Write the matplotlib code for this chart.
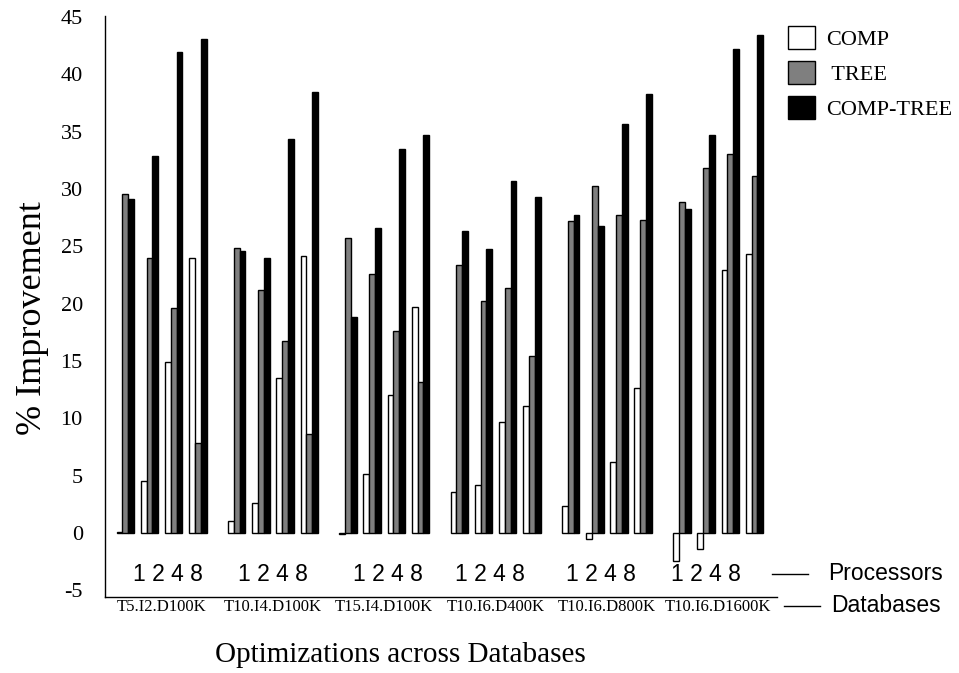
import numpy as np
import matplotlib
matplotlib.use('Agg')
import matplotlib.pyplot as plt
from matplotlib.lines import Line2D
import matplotlib.transforms as mtransforms

databases = ['T5.I2.D100K', 'T10.I4.D100K', 'T15.I4.D100K',
             'T10.I6.D400K', 'T10.I6.D800K', 'T10.I6.D1600K']
processors = ['1', '2', '4', '8']

# % improvement, one row per database, one column per processor count
comp = [[0.1, 4.5, 14.9, 24.0],
        [1.0, 2.6, 13.5, 24.2],
        [-0.1, 5.1, 12.0, 19.7],
        [3.6, 4.2, 9.7, 11.1],
        [2.3, -0.5, 6.2, 12.6],
        [-2.5, -1.4, 22.9, 24.3]]
tree = [[29.6, 24.0, 19.6, 7.8],
        [24.9, 21.2, 16.7, 8.6],
        [25.7, 22.6, 17.6, 13.2],
        [23.4, 20.2, 21.4, 15.4],
        [27.2, 30.3, 27.7, 27.3],
        [28.9, 31.8, 33.1, 31.1]]
comp_tree = [[29.1, 32.9, 42.0, 43.1],
             [24.6, 24.0, 34.4, 38.5],
             [18.8, 26.6, 33.5, 34.7],
             [26.3, 24.8, 30.7, 29.3],
             [27.75, 26.75, 35.7, 38.3],
             [28.3, 34.7, 42.2, 43.4]]

series = [('COMP', comp, 'white'),
          (' TREE', tree, '#7f7f7f'),
          ('COMP-TREE', comp_tree, 'black')]

plt.rcParams['font.family'] = 'Liberation Serif'
plt.rcParams['axes.unicode_minus'] = False

fig = plt.figure(figsize=(9.59, 6.73), dpi=100)
ax = fig.add_axes([0.1095, 0.1129, 0.7005, 0.8633])

db_pitch = 4.6
w = 0.24
base = np.array([[d * db_pitch + p for p in range(len(processors))]
                 for d in range(len(databases))])

handles = []
for k, (name, vals, col) in enumerate(series):
    vals = np.array(vals)
    b = ax.bar(base.ravel() + (k - 1) * w, vals.ravel(), width=w,
               color=col, edgecolor='black', linewidth=1.0, label=name)
    handles.append(b)

ax.set_ylim(-5.6, 45.1)
ax.set_xlim(-0.84, 26.92)
ax.set_yticks(np.arange(-5, 46, 5))
ax.set_xticks([])
ax.tick_params(axis='y', length=0, pad=16, labelsize=16)
ax.spines['top'].set_visible(False)
ax.spines['right'].set_visible(False)
for s in ('left', 'bottom'):
    ax.spines[s].set_linewidth(1.0)

# processor digits and database names under each group
proc_shift = [0.25, 0.0, 0.17, -0.25, -0.25, -0.5]
trans = mtransforms.blended_transform_factory(ax.transData, ax.transAxes)
for d, db in enumerate(databases):
    centre = d * db_pitch + 1.5
    ax.text(centre + proc_shift[d], -3.6, ' '.join(processors),
            family='Liberation Sans', fontsize=16.5,
            ha='center', va='center')
    ax.text(centre, -0.018, db, transform=trans, fontsize=12,
            ha='center', va='center')

fig.add_artist(Line2D([772 / 959, 808 / 959], [1 - 574 / 673] * 2,
                      color='black', linewidth=1.0))
fig.add_artist(Line2D([784 / 959, 820 / 959], [1 - 606 / 673] * 2,
                      color='black', linewidth=1.0))
fig.text(828 / 959, 1 - 574 / 673, 'Processors', family='Liberation Sans',
         fontsize=16.5, va='center', ha='left')
fig.text(831 / 959, 1 - 606 / 673, 'Databases', family='Liberation Sans',
         fontsize=16.5, va='center', ha='left')

fig.text(0.034, 0.527, '% Improvement', rotation=90, fontsize=26,
         ha='center', va='center')
fig.text(0.418, 0.027, 'Optimizations across Databases', fontsize=21,
         ha='center', va='center')

fig.legend(handles=handles, loc='upper left',
           bbox_to_anchor=(788 / 959, 1 - 26 / 673), frameon=False,
           fontsize=16, handlelength=1.2, handleheight=1.2,
           labelspacing=0.5, handletextpad=0.5, borderpad=0,
           borderaxespad=0)

fig.savefig('out.png', dpi=100)
